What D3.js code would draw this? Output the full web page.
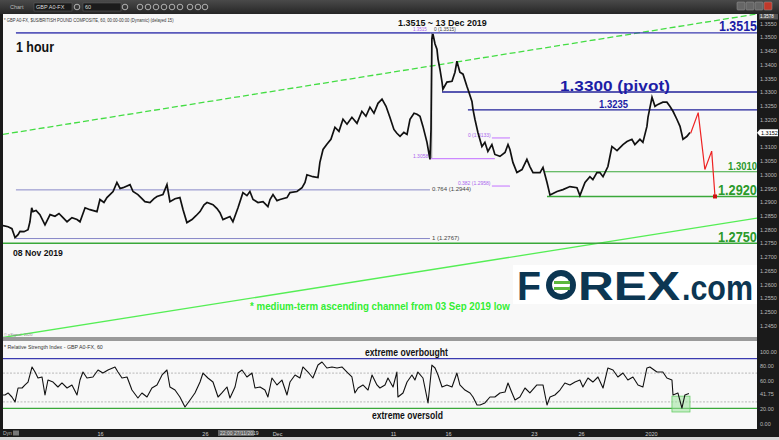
<!DOCTYPE html>
<html><head><meta charset="utf-8">
<script src="https://cdn.jsdelivr.net/npm/d3@7"></script>
<style>body{margin:0;background:#d9d9d9;overflow:hidden}svg{display:block;font-family:"Liberation Sans",Arial,sans-serif}</style>
</head><body><svg id="c" width="779" height="440"></svg>
<script>
// ---------- DATA ----------
// x in trading days since 08 Nov 2019 00:00, y = GBP/USD hourly price
const gbpusd = [[0,1.2814],[0.29,1.2810],[0.51,1.2803],[0.69,1.2770],[0.86,1.2781],[0.97,1.2793],[1.20,1.2792],[1.43,1.2799],[1.54,1.2828],[1.64,1.2879],[1.71,1.2865],[1.89,1.2869],[2.11,1.2854],[2.40,1.2817],[2.69,1.2854],[2.97,1.2848],[3.20,1.2858],[3.43,1.2843],[3.66,1.2828],[3.94,1.2843],[4.23,1.2836],[4.40,1.2828],[4.69,1.2879],[4.97,1.2872],[5.37,1.2865],[5.54,1.2909],[5.77,1.2898],[5.94,1.2916],[6.29,1.2938],[6.51,1.2971],[6.69,1.2949],[6.86,1.2952],[7.26,1.2963],[7.43,1.2938],[7.71,1.2927],[7.94,1.2912],[8.11,1.2901],[8.40,1.2898],[8.63,1.2912],[8.80,1.2920],[9.14,1.2927],[9.37,1.2963],[9.54,1.2901],[9.83,1.2912],[10.11,1.2916],[10.29,1.2872],[10.51,1.2825],[10.80,1.2836],[11.03,1.2850],[11.26,1.2865],[11.49,1.2890],[11.66,1.2898],[12.00,1.2890],[12.23,1.2876],[12.40,1.2861],[12.57,1.2836],[12.97,1.2847],[13.14,1.2828],[13.43,1.2879],[13.71,1.2934],[13.94,1.2923],[14.11,1.2938],[14.29,1.2909],[14.57,1.2898],[14.86,1.2901],[15.14,1.2883],[15.26,1.2909],[15.43,1.2927],[15.66,1.2905],[15.83,1.2909],[16.23,1.2916],[16.40,1.2934],[16.80,1.2938],[17.09,1.2952],[17.26,1.2971],[17.37,1.2999],[17.71,1.2992],[18.00,1.2989],[18.11,1.3044],[18.29,1.3091],[18.51,1.3110],[18.74,1.3128],[18.97,1.3172],[19.20,1.3157],[19.43,1.3201],[19.66,1.3183],[19.94,1.3208],[20.23,1.3186],[20.51,1.3230],[20.74,1.3212],[20.97,1.3245],[21.20,1.3223],[21.43,1.3259],[21.66,1.3274],[21.89,1.3248],[22.11,1.3208],[22.34,1.3164],[22.51,1.3150],[22.69,1.3139],[22.91,1.3153],[23.09,1.3146],[23.26,1.3201],[23.49,1.3223],[23.66,1.3219],[23.83,1.3212],[24.00,1.3175],[24.23,1.3117],[24.40,1.3055],[24.46,1.3164],[24.51,1.3493],[24.57,1.3511],[24.69,1.3475],[24.80,1.3456],[24.86,1.3420],[24.97,1.3383],[25.09,1.3336],[25.14,1.3310],[25.37,1.3336],[25.66,1.3339],[25.83,1.3372],[25.94,1.3412],[26.11,1.3372],[26.29,1.3365],[26.51,1.3321],[26.57,1.3310],[26.80,1.3266],[26.86,1.3237],[26.97,1.3201],[27.14,1.3153],[27.37,1.3102],[27.54,1.3117],[27.71,1.3084],[27.94,1.3109],[28.11,1.3073],[28.40,1.3066],[28.69,1.3080],[28.86,1.3109],[28.97,1.3091],[29.14,1.3044],[29.37,1.3007],[29.66,1.3018],[29.94,1.3055],[30.11,1.3029],[30.29,1.3007],[30.69,1.3007],[30.86,1.3026],[31.09,1.2971],[31.26,1.2925],[31.66,1.2938],[32.00,1.2945],[32.40,1.2956],[32.80,1.2952],[32.97,1.2923],[33.26,1.2971],[33.54,1.2992],[33.71,1.2981],[33.94,1.3007],[34.11,1.3007],[34.29,1.2992],[34.57,1.3029],[34.80,1.3102],[35.09,1.3087],[35.43,1.3109],[35.66,1.3120],[35.94,1.3128],[36.11,1.3109],[36.40,1.3128],[36.57,1.3117],[36.80,1.3175],[36.86,1.3208],[37.09,1.3281],[37.26,1.3248],[37.43,1.3255],[37.71,1.3263],[37.94,1.3263],[38.11,1.3248],[38.29,1.3230],[38.51,1.3201],[38.69,1.3175],[38.86,1.3128],[39.09,1.3139],[39.26,1.3153]];

const rsi14 = [[0,39.6],[0.11,39.6],[0.29,42.4],[0.51,36.8],[0.69,29.9],[0.86,49.3],[1.09,49.3],[1.26,53.5],[1.43,57.6],[1.66,78.5],[1.83,71.5],[2.00,63.2],[2.23,64.6],[2.40,39.6],[2.57,60.4],[2.86,57.6],[3.14,50.7],[3.37,56.3],[3.66,49.3],[3.94,53.5],[4.23,39.6],[4.40,60.4],[4.57,71.5],[4.80,63.2],[5.14,64.6],[5.43,74.3],[5.71,70.1],[6.00,74.3],[6.40,78.5],[6.57,71.5],[6.80,63.2],[7.09,64.6],[7.37,46.5],[7.71,35.4],[7.94,42.4],[8.23,36.8],[8.51,49.3],[8.80,53.5],[9.09,67.4],[9.37,74.3],[9.54,50.7],[9.83,46.5],[10.11,36.8],[10.40,22.9],[10.69,32.6],[10.97,42.4],[11.26,57.6],[11.43,70.1],[11.71,63.2],[12.00,57.6],[12.29,36.8],[12.51,42.4],[12.80,50.7],[12.97,35.4],[13.26,50.7],[13.43,70.1],[13.66,74.3],[13.94,64.6],[14.23,70.1],[14.40,49.3],[14.69,50.7],[14.97,46.5],[15.14,36.8],[15.37,63.2],[15.66,53.5],[15.94,60.4],[16.23,39.6],[16.40,57.6],[16.69,67.4],[16.97,63.2],[17.14,78.5],[17.43,71.5],[17.71,63.2],[18.00,81.2],[18.23,85.4],[18.51,77.1],[18.80,78.5],[19.09,77.1],[19.37,78.5],[19.66,71.5],[19.94,64.6],[20.11,42.4],[20.29,49.3],[20.57,53.5],[20.86,46.5],[21.09,67.4],[21.37,53.5],[21.54,49.3],[21.83,53.5],[22.00,63.2],[22.29,50.7],[22.51,71.5],[22.57,36.8],[22.86,42.4],[23.09,57.6],[23.37,67.4],[23.54,60.4],[23.71,71.5],[24.00,63.2],[24.29,28.5],[24.51,81.2],[24.69,77.1],[24.86,67.4],[25.09,50.7],[25.37,53.5],[25.66,50.7],[25.94,70.1],[26.11,53.5],[26.40,46.5],[26.69,42.4],[26.86,36.8],[27.09,25.7],[27.26,25.7],[27.54,28.5],[27.83,36.8],[28.11,36.8],[28.40,42.4],[28.69,43.8],[28.86,56.3],[29.09,42.4],[29.26,32.6],[29.54,36.8],[29.83,49.3],[30.11,42.4],[30.51,53.5],[30.86,53.5],[31.09,25.7],[31.26,36.8],[31.54,39.6],[31.83,46.5],[32.11,56.3],[32.40,53.5],[32.69,57.6],[32.97,60.4],[33.14,50.7],[33.43,63.2],[33.71,57.6],[34.00,64.6],[34.29,49.3],[34.57,77.1],[34.86,74.3],[35.14,64.6],[35.43,70.1],[35.71,60.4],[36.00,64.6],[36.29,53.5],[36.57,50.7],[36.80,77.1],[36.97,78.5],[37.37,71.5],[37.71,71.5],[37.94,63.2],[38.23,60.4],[38.29,39.6],[38.57,42.4],[38.80,21.5],[38.97,39.6],[39.20,41.75]];

const projection = [[39.30,1.3150],[39.73,1.3225],[40.11,1.3018],[40.50,1.3085],[40.69,1.2920]];
const channelUpper = [[0,1.3146],[43.09,1.3584]];
const channelLower = [[0,1.2407],[43.09,1.2841]];

const levelValues = [1.3515, 1.3300, 1.3235, 1.3010, 1.2920, 1.2750];
const levelLabels = ["1.3515", "1.3300 (pivot)", "1.3235", "1.3010", "1.2920", "1.2750"];
const levelStart  = [0.74, 25.09, 26.57, 30.97, 31.09, 0];

const fibALabels = ["0 (1.3515)", "0.764 (1.2944)", "1 (1.2767)"];
const fibAValues = [1.3515, 1.2944, 1.2767];
const fibBLabels = ["0 (1.3133)", "0.382 (1.2958)"];
const fibBValues = [1.3133, 1.2958];
const fibBLow = 1.3058;

const priceTicks = [1.2450,1.2500,1.2550,1.2600,1.2650,1.2700,1.2750,1.2800,1.2850,1.2900,1.2950,1.3000,1.3050,1.3100,1.3150,1.3200,1.3250,1.3300,1.3350,1.3400,1.3450,1.3500,1.3550];
const rsiTicks = [0, 20, 41.75, 60, 80, 100];
const rsiLevels = [90, 70, 30, 21];
const xTickLabels = ["16", "26", "Dec", "11", "16", "23", "26", "2020"];
const xTickDays   = [5.54, 11.54, 15.66, 22.29, 25.43, 30.34, 33.03, 37.03];
const lastPrice = 1.3152, lastRsi = 41.75;

// ---------- LAYOUT ----------
const svg = d3.select("#c");
const L = 3, R = 757, MT = 14, MB = 337, RT = 341, RB = 429;
const x = d3.scaleLinear().domain([0, 43.09]).range([L, R]);
const y = d3.scaleLinear().domain([1.24088, 1.35839]).range([MB, MT]);
const yr = d3.scaleLinear().domain([0, 100]).range([423.5, 351.5]);

// text fitted to a measured width by horizontal scaling
function fitText(parent, str, x0, y0, size, w, fill, weight) {
  const t = parent.append("text").attr("font-size", size).attr("font-weight", weight || "bold")
    .attr("fill", fill).text(str);
  const nat = t.node().getComputedTextLength() || w;
  t.attr("transform", `translate(${x0},${y0}) scale(${(w/nat).toFixed(4)},1)`);
  return t;
}

// backgrounds
svg.append("rect").attr("width", 779).attr("height", 440).attr("fill", "#d6d6d6");
const tb = svg.append("defs");
const g1 = tb.append("linearGradient").attr("id","tbg").attr("x1",0).attr("y1",0).attr("x2",0).attr("y2",1);
g1.append("stop").attr("offset","0").attr("stop-color","#4a4a4a");
g1.append("stop").attr("offset","1").attr("stop-color","#262626");
tb.append("clipPath").attr("id","cm").append("rect").attr("x",L).attr("y",MT).attr("width",R-L).attr("height",MB-MT);
tb.append("clipPath").attr("id","cr").append("rect").attr("x",L).attr("y",RT).attr("width",R-L).attr("height",RB-RT);

svg.append("rect").attr("x",0).attr("y",0).attr("width",779).attr("height",14).attr("fill","url(#tbg)");
svg.append("rect").attr("x",0).attr("y",14).attr("width",779).attr("height",423).attr("fill","#1a1a1a");
svg.append("rect").attr("x",L).attr("y",MT).attr("width",R-L).attr("height",MB-MT).attr("fill","#f8f8f8");
svg.append("rect").attr("x",L).attr("y",RT).attr("width",R-L).attr("height",RB-RT).attr("fill","#f8f8f8");
svg.append("rect").attr("x",L).attr("y",MB).attr("width",R-L).attr("height",RT-MB).attr("fill","#9a9a9a");

// toolbar content
const tbar = svg.append("g").attr("font-size",5.5).attr("fill","#ddd");
tbar.append("text").attr("x",10).attr("y",9).attr("fill","#bbb").text("Chart");
tbar.append("rect").attr("x",34).attr("y",3).attr("width",38).attr("height",8).attr("fill","#1b1b1b").attr("stroke","#666").attr("stroke-width",0.5);
tbar.append("text").attr("x",36).attr("y",9).text("GBP A0-FX");
tbar.append("rect").attr("x",83).attr("y",3).attr("width",38).attr("height",8).attr("fill","#1b1b1b").attr("stroke","#666").attr("stroke-width",0.5);
tbar.append("text").attr("x",85).attr("y",9).text("60");
[77,125,140,148,156,164,172,180,190,198,205].forEach(cx=>{
  tbar.append("circle").attr("cx",cx).attr("cy",7).attr("r",2.8).attr("fill","none").attr("stroke","#ccc").attr("stroke-width",0.8);
});
[737,746,755,764].forEach((bx,i)=>{
  tbar.append("rect").attr("x",bx).attr("y",2).attr("width",8).attr("height",8).attr("rx",1)
    .attr("fill", i===3 ? "#c0392b" : "#666").attr("stroke","#999").attr("stroke-width",0.5);
});

// ---------- MAIN PANEL ----------
const main = svg.append("g").attr("clip-path","url(#cm)");
const line = d3.line().x(d=>x(d[0])).y(d=>y(d[1]));

fitText(main, "* GBP A0-FX, $US/BRITISH POUND COMPOSITE, 60, 00:00-00:00 (Dynamic) (delayed 15)", 4, 21.5, 5.5, 170, "#333", "normal");

// channel lines
main.append("path").datum(channelUpper).attr("d",line).attr("stroke","#44dd44").attr("stroke-width",1.3).attr("stroke-dasharray","6,3").attr("fill","none");
main.append("path").datum(channelLower).attr("d",line).attr("stroke","#55ee55").attr("stroke-width",1.3).attr("fill","none");

// fib A (grey-blue)
const fibAStart = 0.74, fibAEnd = 24.4;
fibAValues.forEach((v,i)=>{
  main.append("line").attr("x1",x(fibAStart)).attr("x2",x(fibAEnd)).attr("y1",y(v)).attr("y2",y(v))
    .attr("stroke","#8888c8").attr("stroke-width",1);
  main.append("text").attr("x",x(fibAEnd)+(i===0?4:2)).attr("y",y(v)+(i===0?-1.8:1.5)).attr("font-size",i===0?4.8:6).attr("fill","#444")
    .text(fibALabels[i]);
});
main.append("text").attr("x",x(fibAEnd)-17).attr("y",y(fibAValues[0])-1.8).attr("font-size",4.5).attr("fill","#aa66ee").text("1.3515");
// fib connector
main.append("line").attr("x1",x(24.5)).attr("x2",x(24.5)).attr("y1",y(1.3515)).attr("y2",y(fibBLow))
  .attr("stroke","#888").attr("stroke-width",1);

// fib B (violet)
main.append("line").attr("x1",x(24.4)).attr("x2",x(28.11)).attr("y1",y(fibBLow)).attr("y2",y(fibBLow)).attr("stroke","#cc88ff").attr("stroke-width",1.2);
main.append("text").attr("x",x(24.4)-17).attr("y",y(fibBLow)-1).attr("font-size",5).attr("fill","#aa66ee").text("1.3058");
fibBValues.forEach((v,i)=>{
  main.append("line").attr("x1",x(27.94)).attr("x2",x(28.97)).attr("y1",y(v)).attr("y2",y(v)).attr("stroke","#cc88ff").attr("stroke-width",1.2);
  main.append("text").attr("x",x(27.94)-(i===0?24:34)).attr("y",y(v)-1).attr("font-size",5).attr("fill","#aa66ee").text(fibBLabels[i]);
});

// key levels
const levColor = ["#3b3bb0","#22229a","#22229a","#3aa83a","#3aa83a","#3aa83a"];
const levW = [1.3,1.5,1.2,1.2,1.5,1.5];
levelValues.forEach((v,i)=>{
  main.append("line").attr("x1",x(levelStart[i])).attr("x2",R).attr("y1",y(v)).attr("y2",y(v))
    .attr("stroke",levColor[i]).attr("stroke-width",levW[i]);
});
const labStyle = [
  {xr:757, size:15, tl:38, fill:"#1d1da6"},
  {xl:560, size:14, tl:110, fill:"#1d1da6"},
  {xl:599, size:10.5, tl:29, fill:"#1d1da6"},
  {xr:757, size:10.5, tl:29, fill:"#2b9a2b"},
  {xr:757, size:15, tl:39, fill:"#2b9a2b"},
  {xr:757, size:15, tl:39, fill:"#2b9a2b"}
];
levelValues.forEach((v,i)=>{
  const s = labStyle[i];
  fitText(main, levelLabels[i], s.xl !== undefined ? s.xl : s.xr - s.tl, y(v)-1.5, s.size, s.tl, s.fill);
});

// price series
main.append("path").datum(gbpusd).attr("d",line).attr("fill","none").attr("stroke","#111").attr("stroke-width",1.7).attr("stroke-linejoin","miter");

// projection
main.append("path").datum(projection).attr("d",line).attr("fill","none").attr("stroke","#ee2222").attr("stroke-width",1.2);
const pe = projection[projection.length-1];
main.append("rect").attr("x",x(pe[0])-2).attr("y",y(pe[1])-2).attr("width",4).attr("height",4).attr("fill","#cc1111");

// annotations
fitText(main, "1 hour", 16, 52, 15, 38, "#111");
fitText(main, "1.3515 ~ 13 Dec 2019", 398, 26, 9.5, 89, "#111");
fitText(main, "08 Nov 2019", 13, 256, 9, 50, "#111");
fitText(main, "* medium-term ascending channel from 03 Sep 2019 low", 250, 310, 10, 260, "#33ee33");
main.append("text").attr("x",4).attr("y",336).attr("font-size",4).attr("fill","#888").text("© eSignal, 2020");

// FOREX.com logo
const logo = main.append("g");
logo.append("rect").attr("x",513).attr("y",265).attr("width",244).attr("height",39).attr("fill","#ffffff");
fitText(logo, "F", 517, 300, 40, 24, "#0c3652");
logo.append("circle").attr("cx",561).attr("cy",285).attr("r",15).attr("fill","#0c3652");
logo.append("circle").attr("cx",561).attr("cy",285).attr("r",9).attr("fill","#ffffff");
logo.append("rect").attr("x",554).attr("y",281).attr("width",16).attr("height",3).attr("fill","#5cb83c");
logo.append("rect").attr("x",554).attr("y",287).attr("width",16).attr("height",3).attr("fill","#5cb83c");
fitText(logo, "REX", 578, 300, 40, 102, "#0c3652");
fitText(logo, ".com", 682, 300, 36, 71, "#0c3652");

// ---------- RSI PANEL ----------
const rp = svg.append("g").attr("clip-path","url(#cr)");
fitText(rp, "* Relative Strength Index - GBP A0-FX, 60", 4, 348.5, 5.5, 99, "#333", "normal");
const rlColor = ["#3b3bb0","#aaa","#aaa","#3aa83a"];
rsiLevels.forEach((v,i)=>{
  rp.append("line").attr("x1",L).attr("x2",R).attr("y1",yr(v)).attr("y2",yr(v))
    .attr("stroke",rlColor[i]).attr("stroke-width", (i===0||i===3)?1.3:0.8)
    .attr("stroke-dasharray", (i===1||i===2)?"2,1.5":null);
});
// highlight box
rp.append("rect").attr("x",x(38.23)).attr("y",yr(38)).attr("width",x(39.26)-x(38.23)).attr("height",yr(16)-yr(38))
  .attr("fill","#9be39b").attr("fill-opacity",0.55).attr("stroke","#66cc66").attr("stroke-width",0.8);
const rline = d3.line().x(d=>x(d[0])).y(d=>yr(d[1]));
rp.append("path").datum(rsi14).attr("d",rline).attr("fill","none").attr("stroke","#111").attr("stroke-width",1.1).attr("stroke-linejoin","round");
fitText(rp, "extreme overbought", 365, 356, 10, 83, "#111");
fitText(rp, "extreme oversold", 372, 418.5, 10, 71, "#111");

// ---------- AXES ----------
const ay = svg.append("g").attr("transform",`translate(${R+3},0)`)
  .call(d3.axisRight(y).tickValues(priceTicks).tickFormat(d3.format(".4f")).tickSize(0).tickPadding(0));
ay.select(".domain").remove();
ay.selectAll("text").attr("font-size",5.5).attr("fill","#bbb").attr("font-family","Liberation Sans, Arial");

const ar = svg.append("g").attr("transform",`translate(${R+3},0)`)
  .call(d3.axisRight(yr).tickValues(rsiTicks).tickFormat(d3.format(".2f")).tickSize(0).tickPadding(0));
ar.select(".domain").remove();
ar.selectAll("text").attr("font-size",5.5).attr("fill","#bbb").attr("font-family","Liberation Sans, Arial");

// current-price tag
const tag = svg.append("g");
tag.append("path").attr("d",`M${R} ${y(lastPrice)} l3 -3.5 h18 v7 h-18 z`).attr("fill","#ffffff");
tag.append("text").attr("x",R+4).attr("y",y(lastPrice)+2).attr("font-size",5.5).attr("fill","#000").text(d3.format(".4f")(lastPrice));
tag.append("rect").attr("x",R+2).attr("y",14).attr("width",19).attr("height",5.5).attr("fill","#555");
tag.append("text").attr("x",R+3).attr("y",18.3).attr("font-size",4.5).attr("fill","#fff").text("1.3578");

// bottom axis
const ax = svg.append("g").attr("transform",`translate(0,${RB})`)
  .call(d3.axisBottom(x).tickValues(xTickDays).tickFormat((d,i)=>xTickLabels[i]).tickSize(0).tickPadding(3));
ax.select(".domain").remove();
ax.selectAll("text").attr("font-size",5.5).attr("fill","#ccc").attr("font-family","Liberation Sans, Arial");
svg.append("rect").attr("x",218).attr("y",430).attr("width",36).attr("height",6).attr("fill","#666");
svg.append("text").attr("x",220).attr("y",435).attr("font-size",5).attr("fill","#ddd").text("22:00 27/11/2019");
svg.append("text").attr("x",3).attr("y",435).attr("font-size",5).attr("fill","#bbb").text("Dyn");
svg.append("rect").attr("x",13).attr("y",430.5).attr("width",6).attr("height",5).attr("fill","#777");
svg.append("rect").attr("x",0).attr("y",437).attr("width",779).attr("height",3).attr("fill","#d6d6d6");
</script></body></html>
